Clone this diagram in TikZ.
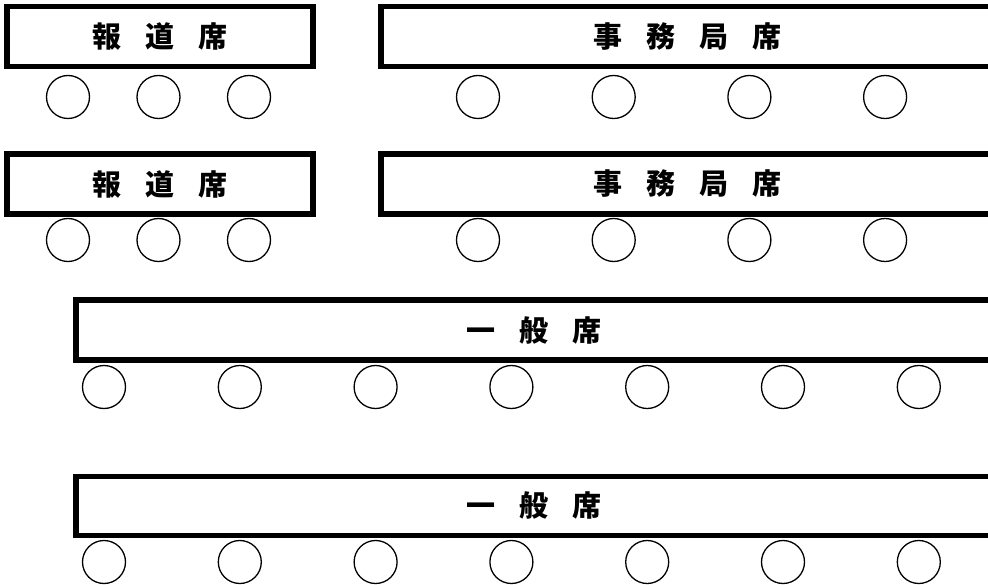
\documentclass[tikz,border=0pt]{standalone}
\usepackage{fontspec}
\newfontfamily\jp{Noto Sans CJK JP}
\usepackage{tikz}
\tikzset{>=latex}
\tikzset{
	desk/.style={draw, rectangle, line width=5.5pt, minimum height=60pt, inner sep=0pt, font=\jp\bfseries\fontsize{29}{29}\selectfont},
	seat/.style={draw, circle, line width=1.3pt, minimum size=43pt, inner sep=0pt}
}
\newcommand{\gp}{\hspace{.82em}}
% a row of seats: name, first x, step, count, y
\newcommand{\seats}[5]{
	\foreach \i in {1, ..., #4}
		\node[seat](#1\i) at ({#2+#3*(\i-1)}, #5){};
}

\begin{document}
\begin{tikzpicture}[x=1pt, y=-1pt]
	\useasboundingbox (0, 0) rectangle (988, 585);
	\clip (0, 0) rectangle (988, 585);
	\node[desk, minimum width=306pt](press1) at (160, 36.7){報\gp 道\gp 席};
	\node[desk, minimum width=613pt](office1) at (687.5, 36.7){事\gp 務\gp 局\gp 席};
	\seats{pa}{68}{90.5}{3}{97}
	\seats{oa}{478}{135.7}{4}{97}
	\node[desk, minimum width=306pt](press2) at (160, 184){報\gp 道\gp 席};
	\node[desk, minimum width=613pt](office2) at (687.5, 184){事\gp 務\gp 局\gp 席};
	\seats{pb}{68}{90.5}{3}{240}
	\seats{ob}{478}{135.7}{4}{240}
	\node[desk, minimum width=916pt](general1) at (534, 330){一\gp 般\gp 席};
	\seats{ga}{104}{135.8}{7}{387}
	\node[desk, minimum width=916pt, minimum height=59pt](general2) at (534, 505.8){一\gp 般\gp 席};
	\seats{gb}{104}{135.8}{7}{562}
\end{tikzpicture}
\end{document}
